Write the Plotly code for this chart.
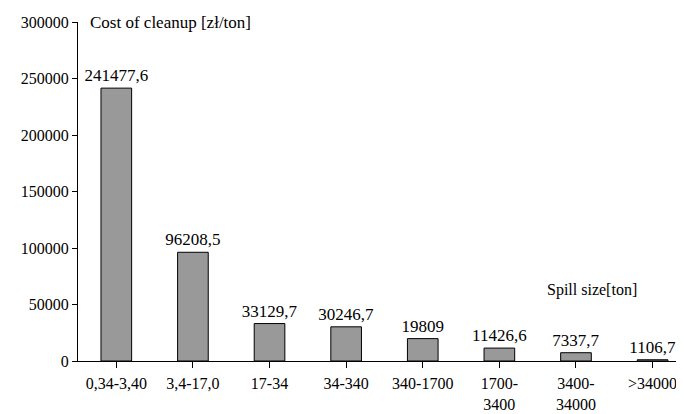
import plotly.graph_objects as go

categories = ["0,34-3,40", "3,4-17,0", "17-34", "34-340", "340-1700", "1700-<br>3400", "3400-<br>34000", ">34000"]
costs = [241477.6, 96208.5, 33129.7, 30246.7, 19809, 11426.6, 7337.7, 1106.7]
labels = ["241477,6", "96208,5", "33129,7", "30246,7", "19809", "11426,6", "7337,7", "1106,7"]
y_ticks = [0, 50000, 100000, 150000, 200000, 250000, 300000]

font = dict(family="Liberation Serif, Times New Roman, serif", size=16, color="black")
label_font = dict(family="Liberation Serif, Times New Roman, serif", size=17, color="black")

fig = go.Figure(go.Bar(
    x=list(range(len(categories))), y=costs, text=labels, textposition="outside",
    textfont=label_font, cliponaxis=False, width=0.4, constraintext="none",
    marker=dict(color="#999999", line=dict(color="black", width=1)),
))

# page body has an 8px margin: figure is sized so the plot area lands where the reference has it
fig.update_layout(
    width=676, height=406, margin=dict(l=70, r=0, t=14, b=53),
    paper_bgcolor="white", plot_bgcolor="white", font=font, showlegend=False,
    xaxis=dict(range=[-0.5, 7.41], tickmode="array", tickvals=list(range(len(categories))),
               ticktext=categories, showline=True, linecolor="black", linewidth=1,
               ticks="outside", ticklen=6, tickcolor="black", showgrid=False, zeroline=False,
               automargin=False, tickson="boundaries", ticklabelstandoff=2),
    yaxis=dict(range=[0, 300000], tickvals=y_ticks, ticktext=[str(v) for v in y_ticks],
               showline=True, linecolor="black", linewidth=1, ticks="outside", ticklen=5,
               tickcolor="black", showgrid=False, zeroline=False, automargin=False),
    annotations=[
        dict(text="Cost of cleanup [zł/ton]", xref="paper", yref="paper", x=0.016, y=1.0,
             xanchor="left", yanchor="middle", showarrow=False, font=label_font),
        dict(text="Spill size[ton]", xref="paper", yref="paper", x=0.77, y=0.21,
             xanchor="left", yanchor="middle", showarrow=False, font=font),
    ],
)

fig.write_html("out.html")
